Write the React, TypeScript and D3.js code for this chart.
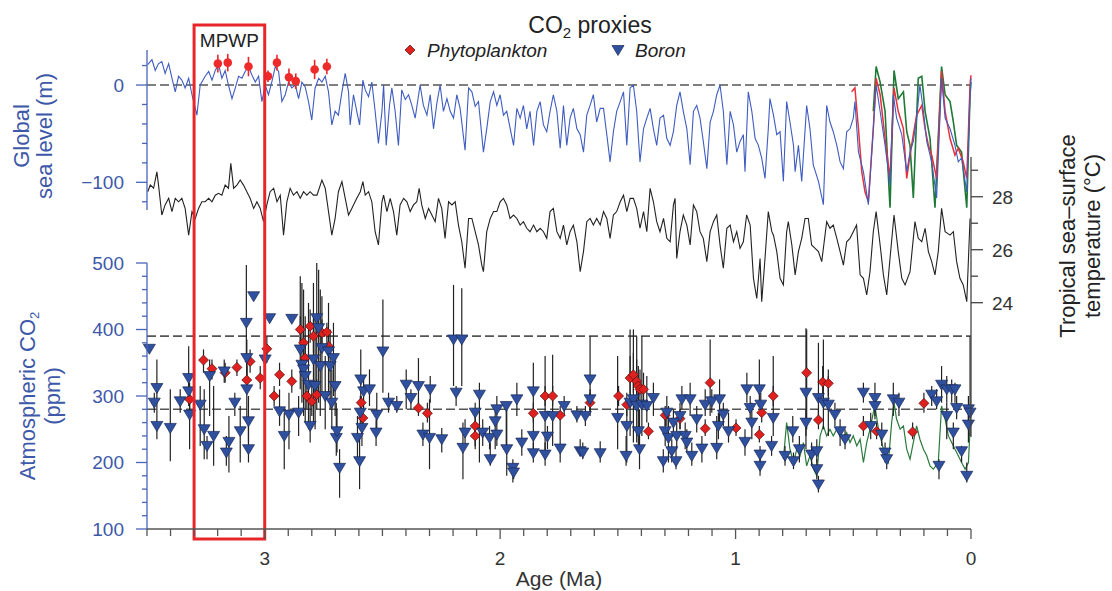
import React from 'react';
import * as d3 from 'd3';

// ---- Global sea level (m), LR04-based reconstruction: [age Ma, metres]
const seaLevel: [number, number][] = [
  [3.497,21],[3.479,26],[3.465,15],[3.451,22],[3.437,24],[3.423,12],[3.408,22],[3.394,7],[3.380,-7],[3.366,9],[3.352,5],[3.338,-3],[3.323,7],[3.309,-10],[3.288,-31],[3.274,0],[3.253,9],[3.238,14],[3.224,5],[3.210,15],[3.196,21],[3.182,7],[3.168,15],[3.154,0],[3.139,-14],[3.125,-3],[3.111,9],[3.097,7],[3.083,14],[3.069,19],[3.054,10],[3.040,3],[3.026,9],[3.012,-17],[2.998,0],[2.984,-10],[2.970,3],[2.955,19],[2.941,14],[2.927,-17],[2.913,-10],[2.899,3],[2.885,-3],[2.870,0],[2.856,-14],[2.842,3],[2.828,-2],[2.814,-17],[2.800,-36],[2.786,-3],[2.771,7],[2.757,3],[2.743,9],[2.729,-7],[2.715,-41],[2.701,-27],[2.687,-31],[2.672,-7],[2.658,12],[2.644,-7],[2.637,-41],
  [2.623,-10],[2.609,-27],[2.597,-41],[2.583,5],[2.573,-5],[2.559,-12],[2.545,3],[2.531,-27],[2.517,-60],[2.502,-27],[2.495,0],[2.484,-62],[2.470,-21],[2.460,-3],[2.446,-27],[2.432,-62],[2.418,-5],[2.403,-15],[2.389,-10],[2.375,-21],[2.361,-34],[2.340,0],[2.326,-21],[2.311,-31],[2.297,-10],[2.283,-45],[2.269,-19],[2.255,0],[2.241,-27],[2.226,-14],[2.212,-27],[2.198,-34],[2.184,-10],[2.170,-24],[2.149,-67],[2.134,-3],[2.120,-7],[2.106,-22],[2.092,-17],[2.071,-69],[2.057,-45],[2.042,-17],[2.028,-7],[2.014,-21],[2.000,-10],[1.986,-31],[1.972,-27],[1.943,-62],[1.929,-24],[1.915,-34],[1.901,-21],[1.887,-45],[1.873,-27],[1.858,-62],[1.844,-27],[1.830,-17],[1.816,-41],[1.802,-48],[1.788,-27],[1.774,-10],[1.759,-27],[1.745,-65],
  [1.731,-21],[1.717,-62],[1.703,-34],[1.689,-24],[1.674,-45],[1.660,-51],[1.646,-69],[1.632,-31],[1.618,-21],[1.604,-10],[1.590,-38],[1.575,-24],[1.561,-24],[1.547,-51],[1.533,-79],[1.519,-48],[1.505,-27],[1.490,-17],[1.476,-7],[1.462,-62],[1.448,-3],[1.434,0],[1.420,-27],[1.406,-79],[1.391,-45],[1.377,-34],[1.363,-24],[1.349,-45],[1.335,-62],[1.321,-34],[1.306,-31],[1.292,-55],[1.278,-62],[1.264,-48],[1.250,-21],[1.236,-7],[1.222,-27],[1.207,-45],[1.193,-82],[1.179,-27],[1.165,-21],[1.151,-34],[1.137,-58],[1.122,-86],[1.108,-38],[1.094,-27],[1.080,-10],[1.066,0],[1.052,-27],[1.037,-82],[1.023,-27],[1.009,-41],[0.995,-69],[0.981,-58],[0.967,-51],[0.960,-89],[0.946,-7],[0.931,-27],[0.917,-55],[0.903,-62],[0.889,-75],[0.875,-96],[0.861,-45],[0.854,-14],
  [0.839,-31],[0.825,-51],[0.811,-48],[0.797,-99],[0.783,-17],[0.769,-38],[0.754,-62],[0.747,-89],[0.733,-62],[0.719,-99],[0.698,-21],[0.684,-45],[0.670,-82],[0.648,-99],[0.627,-123],[0.613,-21],[0.599,-38],[0.585,-48],[0.570,-62],[0.556,-79],[0.542,-86],[0.528,-48],[0.514,-45],[0.500,-34],[0.493,-17],[0.478,-69],[0.457,-89],[0.436,-123],[0.415,-45],[0.403,0],[0.386,-27],[0.365,-62],[0.344,-103],[0.330,-10],[0.316,-34],[0.294,-51],[0.273,-89],[0.259,-69],[0.245,-58],[0.231,-34],[0.217,0],[0.202,-27],[0.188,-58],[0.167,-79],[0.146,-116],[0.125,7],[0.110,-34],[0.089,-45],[0.068,-62],[0.054,-79],[0.040,-75],[0.018,-110],[0.004,-10],[0.000,7],
];

// Late Pleistocene sea-level records (red and green)
const seaLevelRed: [number, number][] = [
  [0.507,-7],[0.493,-3],[0.478,-45],[0.464,-89],[0.450,-110],[0.436,-120],[0.415,-45],[0.403,7],[0.386,-10],[0.365,-55],[0.344,-96],[0.327,-3],[0.309,-27],[0.287,-45],[0.273,-96],[0.259,-72],[0.245,-51],[0.231,-31],[0.209,-21],[0.195,-45],[0.181,-62],[0.167,-72],[0.146,-96],[0.125,14],[0.110,-27],[0.089,-55],[0.068,-72],[0.054,-65],[0.033,-79],[0.018,-96],[0.004,0],[0.000,10],
];
const seaLevelGreen: [number, number][] = [
  [0.415,-27],[0.403,19],[0.386,3],[0.365,-27],[0.344,-126],[0.327,15],[0.309,-14],[0.287,-7],[0.273,-48],[0.259,-62],[0.245,-116],[0.224,7],[0.209,9],[0.195,-27],[0.174,-55],[0.153,-126],[0.125,19],[0.110,-10],[0.089,-17],[0.075,-38],[0.061,-62],[0.040,-69],[0.018,-126],[0.004,-10],[0.000,3],
];

// Pliocene sea-level highstand estimates: [age Ma, metres, ± error]
const plioceneHighstands: [number, number, number][] = [
  [3.199,22,9],[3.157,23,9],[3.069,19,10],[2.986,9,6],[2.948,23,8],[2.897,8,9],[2.868,4,8],[2.788,16,10],[2.736,19,8],
];

// ---- Tropical sea-surface temperature (°C): [age Ma, °C]
const sst: [number, number][] = [
  [3.497,28.19],[3.486,28.44],[3.472,28.32],[3.458,28.94],[3.451,28.44],[3.437,27.31],[3.423,27.69],[3.408,27.94],[3.394,27.44],[3.380,27.94],[3.366,27.81],[3.352,27.94],[3.338,27.56],[3.323,26.55],[3.309,27.44],[3.295,27.18],[3.281,27.56],[3.267,27.81],[3.253,27.81],[3.238,27.94],[3.224,27.81],[3.210,28.06],[3.196,28.13],[3.182,28.06],[3.168,28.44],[3.154,28.32],[3.144,29.26],[3.132,28.32],[3.118,28.44],[3.104,28.63],[3.090,28.44],[3.076,28.19],[3.062,27.94],[3.047,27.56],[3.033,27.81],[3.019,27.56],[3.005,27.06],[2.991,27.69],[2.977,28.19],[2.962,28.32],[2.948,27.81],[2.934,28.06],[2.920,26.55],[2.906,27.81],[2.892,28.32],[2.878,28.06],[2.863,28.19],[2.849,27.94],[2.835,28.19],[2.821,28.06],[2.807,28.19],[2.793,28.06],[2.778,28.06],[2.757,28.63],[2.743,28.32],[2.729,27.44],[2.715,26.55],[2.701,27.18],[2.687,28.19],[2.672,28.57],[2.658,27.94],[2.644,27.31],[2.630,27.56],
  [2.623,27.69],[2.609,27.94],[2.594,28.19],[2.583,28.57],[2.573,28.06],[2.559,28.19],[2.545,27.81],[2.531,26.68],[2.517,26.18],[2.502,27.81],[2.495,28.06],[2.481,27.44],[2.467,27.94],[2.453,27.44],[2.439,26.55],[2.425,27.69],[2.410,27.94],[2.396,27.81],[2.382,27.44],[2.368,27.69],[2.354,27.81],[2.344,28.32],[2.333,27.69],[2.318,27.18],[2.304,27.56],[2.290,27.31],[2.276,27.06],[2.262,27.94],[2.248,27.56],[2.234,26.43],[2.219,27.81],[2.205,27.69],[2.191,27.81],[2.177,26.93],[2.163,26.30],[2.149,25.30],[2.134,27.18],[2.120,27.18],[2.106,26.68],[2.092,26.18],[2.078,25.42],[2.071,25.17],[2.057,26.68],[2.042,27.18],[2.028,27.44],[2.014,27.44],[2.000,27.81],[1.986,27.94],[1.972,27.69],[1.958,27.18],[1.943,27.31],[1.929,27.18],[1.915,26.93],[1.901,27.06],[1.887,26.81],[1.873,26.68],[1.858,26.93],[1.844,26.68],[1.830,26.81],[1.816,26.68],[1.802,26.43],[1.788,27.44],[1.774,27.56],[1.759,26.68],[1.745,26.43],
  [1.731,26.93],[1.717,26.18],[1.703,26.68],[1.689,26.93],[1.674,26.30],[1.660,25.17],[1.646,25.93],[1.632,27.06],[1.618,27.18],[1.604,26.93],[1.590,27.18],[1.575,26.93],[1.561,27.44],[1.547,27.18],[1.533,26.43],[1.519,27.31],[1.505,27.44],[1.490,27.81],[1.476,28.06],[1.462,27.44],[1.448,27.94],[1.434,27.94],[1.420,27.56],[1.406,26.81],[1.391,27.44],[1.377,26.68],[1.363,28.32],[1.349,27.81],[1.335,27.06],[1.321,26.68],[1.306,27.18],[1.292,26.43],[1.278,26.30],[1.264,27.69],[1.257,27.94],[1.250,25.67],[1.236,26.68],[1.222,27.31],[1.207,26.93],[1.193,26.18],[1.179,27.69],[1.165,27.44],[1.151,26.68],[1.137,26.43],[1.122,25.55],[1.108,26.68],[1.094,27.06],[1.080,27.31],[1.066,26.18],[1.052,25.30],[1.037,26.81],[1.023,26.93],[1.009,26.30],[0.995,26.68],[0.981,26.05],[0.967,26.30],[0.953,27.31],[0.938,26.93],[0.924,24.92],[0.910,24.16],[0.896,25.67],[0.889,24.04],[0.875,25.67],[0.861,27.44],[0.846,26.68],[0.839,26.55],
  [0.825,25.93],[0.811,24.92],[0.797,24.67],[0.783,26.68],[0.776,27.06],[0.761,26.18],[0.747,25.05],[0.733,25.93],[0.719,26.43],[0.705,27.18],[0.691,27.18],[0.677,26.18],[0.662,26.05],[0.648,25.93],[0.634,25.55],[0.613,27.06],[0.599,26.81],[0.585,26.93],[0.570,26.43],[0.556,25.93],[0.542,25.42],[0.528,26.30],[0.514,26.43],[0.500,26.68],[0.486,26.93],[0.471,25.05],[0.457,24.92],[0.443,24.29],[0.429,25.17],[0.415,26.68],[0.403,27.44],[0.386,26.18],[0.372,25.05],[0.358,24.29],[0.344,25.67],[0.327,27.31],[0.309,25.93],[0.294,24.92],[0.280,24.67],[0.259,25.17],[0.238,27.06],[0.224,26.43],[0.209,26.30],[0.195,26.81],[0.181,25.93],[0.167,25.55],[0.153,25.05],[0.139,25.93],[0.125,27.56],[0.110,26.68],[0.089,26.55],[0.075,26.68],[0.061,25.55],[0.047,24.92],[0.033,24.67],[0.018,24.04],[0.004,27.18],
];

// ---- Atmospheric CO2 proxies: [age Ma, ppm, lower, upper]
const boron: [number, number, number, number][] = [
  [3.490,371,371,371],[3.458,312,285,355],[3.469,290,275,305],[3.458,255,235,285],[3.401,252,202,310],[3.359,292,275,310],[3.323,327,285,375],[3.323,307,290,325],[3.319,272,220,320],[3.274,287,225,315],[3.257,250,205,310],[3.245,225,205,240],[3.234,330,270,355],[3.217,240,195,315],[3.172,337,320,355],[3.163,215,195,240],[3.152,231,185,270],[3.127,290,270,305],[3.104,247,200,285],[3.078,410,355,497],[3.076,357,320,385],[3.076,310,260,355],[3.069,262,230,300],[3.069,220,200,270],[3.047,450,450,450],[2.998,355,285,415],[2.979,417,417,417],[2.937,277,255,310],[2.917,240,190,275],[2.897,272,220,305],[2.885,416,416,416],[2.856,275,240,300],[2.849,370,310,480],[2.842,347,290,470],[2.835,340,270,460],[2.828,330,260,420],[2.814,317,250,440],[2.807,255,230,300],[2.793,355,260,470],[2.786,315,250,420],[2.779,417,305,500],[2.771,402,290,490],[2.764,345,270,460],[2.757,372,300,450],[2.743,300,250,360],[2.729,367,300,440],[2.722,345,280,400],[2.715,290,250,340],[2.708,357,300,410],[2.701,315,270,360],[2.696,237,210,290],[2.693,247,215,280],[2.682,192,147,220],[2.606,237,200,270],[2.597,202,160,240],[2.594,275,250,300],[2.592,325,280,370],[2.587,252,225,280],[2.580,307,280,330],[2.555,310,285,340],[2.524,272,250,305],[2.527,245,225,265],[2.498,367,305,445],[2.474,290,275,305],[2.439,285,275,300],
  [2.399,317,280,340],[2.379,297,280,310],[2.347,315,285,357],[2.328,242,225,260],[2.300,237,190,295],[2.297,310,290,330],[2.248,235,215,252],[2.198,385,315,467],[2.187,305,285,315],[2.163,385,315,462],[2.158,222,175,260],[2.149,245,225,265],[2.106,275,220,290],[2.088,302,200,320],[2.074,245,225,265],[2.045,237,220,255],[2.042,205,195,230],[2.021,262,220,285],[2.014,280,265,300],[2.014,242,225,260],[1.974,285,225,290],[1.972,220,180,285],[1.946,192,170,205],[1.943,185,175,195],[1.929,295,270,320],[1.908,230,210,250],[1.859,307,270,350],[1.859,240,210,270],[1.859,214,200,230],[1.809,270,215,360],[1.809,212,195,230],[1.799,239,220,255],[1.777,270,225,362],[1.745,221,200,255],[1.728,285,270,300],[1.674,271,260,285],[1.660,217,210,235],[1.649,215,205,230],[1.638,270,255,285],[1.618,325,280,390],[1.618,295,270,310],[1.575,214,200,232],[1.501,267,220,360],[1.465,210,195,240],[1.462,255,200,280],[1.448,290,240,400],[1.434,295,230,400],[1.420,285,230,390],[1.413,247,220,330],[1.408,220,190,280],[1.398,287,240,390],[1.377,285,260,330],[1.349,297,270,320],[1.307,202,185,220],[1.299,247,225,270],[1.292,275,255,300],[1.285,237,200,285],[1.271,217,200,235],[1.264,260,240,280],[1.253,202,190,220],[1.250,240,220,260],[1.236,270,250,290],[1.228,295,280,315],[1.214,240,220,260],[1.207,230,215,250],[1.193,295,270,320],[1.186,210,195,230],[1.165,265,245,285],[1.143,221,200,240],[1.129,287,270,310],[1.101,292,275,310],[1.080,222,205,270],[1.073,255,235,275],[1.068,295,260,325],[1.052,272,255,290],[1.030,247,230,275],[0.960,231,210,250],[0.952,310,290,335],[0.938,282,265,300],[0.931,260,235,290],[0.899,310,285,355],[0.896,212,200,225],[0.896,195,180,205],[0.893,287,270,305],[0.840,267,240,360],[0.847,225,210,240],[0.757,247,230,270],
  [0.790,210,195,225],[0.754,202,190,215],[0.729,220,200,240],[0.701,305,220,402],[0.701,260,240,280],[0.677,212,195,230],[0.655,217,200,235],[0.655,190,175,205],[0.648,167,155,180],[0.648,297,270,380],[0.627,290,250,385],[0.606,287,240,330],[0.578,272,255,290],[0.556,247,225,265],[0.535,235,220,250],[0.457,305,290,320],[0.426,255,235,275],[0.408,297,270,320],[0.408,285,265,300],[0.379,242,225,260],[0.365,215,200,230],[0.358,205,190,220],[0.330,295,270,320],[0.306,290,270,305],[0.167,302,285,315],[0.146,292,280,310],[0.136,195,175,205],[0.125,317,290,345],[0.103,310,290,330],[0.082,310,290,325],[0.068,310,290,320],[0.103,270,235,290],[0.075,245,220,260],[0.061,282,265,300],[0.040,217,200,225],[0.018,180,170,200],[0.011,280,260,300],[0.004,275,240,390],[0.011,257,230,285],
];

const phytoplankton: [number, number, number, number][] = [
  [3.319,295,280,310],[3.260,354,335,370],[3.224,341,325,355],[3.168,335,320,350],[3.118,343,330,355],[3.076,324,305,345],[3.062,352,335,370],[3.019,327,310,345],[2.991,371,350,390],[2.960,300,285,315],[2.937,332,315,350],[2.885,322,305,340],[2.849,400,380,420],[2.835,380,355,405],[2.828,357,335,380],[2.821,300,280,320],[2.807,405,380,430],[2.800,292,270,315],[2.793,390,365,415],[2.779,302,280,325],[2.757,395,375,415],[2.736,396,380,410],[2.729,375,355,395],[2.590,290,280,300],[2.583,267,255,280],
  [2.347,282,270,295],[2.309,274,260,290],[2.106,255,240,270],[2.106,240,225,255],[1.859,274,260,290],[1.809,300,285,315],[1.777,300,285,315],[1.745,271,255,285],[1.618,290,275,305],[1.497,300,285,315],[1.448,327,300,360],[1.434,332,305,365],[1.420,322,295,355],[1.413,315,290,345],[1.406,310,285,340],[1.391,310,290,335],[1.462,287,270,305],[1.370,247,235,260],[1.299,271,255,285],[1.236,266,250,280],[1.129,251,240,265],[1.108,320,270,385],[0.998,252,240,265],[0.899,242,230,255],[0.889,275,260,290],[0.840,300,285,315],
  [0.698,335,250,400],[0.648,264,250,280],[0.630,321,300,345],[0.606,319,300,340],[0.457,255,240,270],[0.401,247,235,260],[0.248,246,235,260],[0.200,289,275,305],
];

// Ice-core CO2: [age Ma, ppm]
const iceCoreCO2: [number, number][] = [
  [0.797,205],[0.783,260],[0.769,220],[0.754,200],[0.740,220],[0.726,210],[0.712,230],[0.698,195],[0.684,210],[0.669,190],[0.655,180],[0.641,240],[0.627,255],[0.613,240],[0.599,250],[0.585,240],[0.570,250],[0.556,240],[0.542,235],[0.528,245],[0.514,230],[0.500,240],[0.485,225],[0.471,235],[0.457,200],[0.443,230],[0.429,250],[0.415,275],[0.408,285],[0.393,250],[0.379,230],[0.365,210],[0.351,200],[0.337,260],[0.327,290],[0.316,265],[0.301,250],[0.287,255],[0.273,220],[0.259,205],[0.245,230],[0.231,255],[0.217,235],[0.202,220],[0.188,210],[0.174,195],[0.160,190],[0.139,200],[0.125,285],[0.110,265],[0.096,240],[0.082,230],[0.068,220],[0.054,210],[0.040,200],[0.025,190],[0.011,200],[0.004,250],
];

// Reference CO2 levels (ppm) and warm-period bounds (Ma)
const co2RefLevels = [390, 280];
const mpwp = [3.3, 3.0];

// Axis ticks
const ageTicks = d3.range(0, 3.5001, 0.1).map(v => Math.round(v * 10) / 10);
const ageLabels = [3, 2, 1, 0];
const seaTicks = [20, 0, -20, -40, -60, -80, -100, -120];
const seaLabels = [0, -100];
const co2Ticks = d3.range(100, 501, 20);
const co2Labels = [100, 200, 300, 400, 500];
const sstTicks = [24, 25, 26, 27, 28, 29];
const sstLabels = [24, 26, 28];

// Scales
const x = d3.scaleLinear().domain([3.5, 0]).range([147, 971]);
const ySea = d3.scaleLinear().domain([-130, 36]).range([211.5, 50]);
const yT = d3.scaleLinear().domain([18.93, 29.5]).range([437, 157]);
const yCO2 = d3.scaleLinear().domain([100, 500]).range([529, 263]);

const FONT = '"Liberation Sans", Arial, Helvetica, sans-serif';
const BLUE_TXT = '#3d58a8';
const AXIS_BLUE = '#4a64b8';
const GREY = '#555';

const seaLine = d3.line<[number, number]>().x(d => x(d[0])).y(d => ySea(d[1]));
const sstLine = d3.line<[number, number]>().x(d => x(d[0])).y(d => yT(d[1]));
const co2Line = d3.line<[number, number]>().x(d => x(d[0])).y(d => yCO2(d[1]));

const triPath = 'M-6,-4.5L6,-4.5L0,5.5Z';
const diaPath = 'M0,-5L5,0L0,5L-5,0Z';

export default function App() {
  const x0 = x.range()[0];
  const x1 = x.range()[1];
  return (
    <svg width={1112} height={591} style={{ position: 'absolute', left: 0, top: 0, background: '#fff' }}
      fontFamily={FONT}>
      {/* Title and legend */}
      <text x={590} y={33} textAnchor="middle" fontSize={23} fill="#222">
        CO<tspan fontSize={15} dy={5}>2</tspan><tspan dy={-5}> proxies</tspan>
      </text>
      <path d={diaPath} transform="translate(410,50)" fill="#e0201e" stroke="#4a1010" strokeWidth={0.7} />
      <text x={427} y={57} fontSize={19} fontStyle="italic" fill="#222">Phytoplankton</text>
      <path d={triPath} transform="translate(618,50)" fill="#2f4f9f" stroke="#1a2a55" strokeWidth={0.7} />
      <text x={635} y={57} fontSize={19} fontStyle="italic" fill="#222">Boron</text>

      {/* Reference dashed lines */}
      <line x1={x0} x2={x1} y1={ySea(0)} y2={ySea(0)} stroke={GREY} strokeWidth={1.6} strokeDasharray="9,4" />
      {co2RefLevels.map(v => (
        <line key={v} x1={x0} x2={x1} y1={yCO2(v)} y2={yCO2(v)} stroke={GREY} strokeWidth={1.6} strokeDasharray="9,4" />
      ))}

      {/* Sea-level curves */}
      <path d={seaLine(seaLevelGreen) || ''} fill="none" stroke="#1e7a36" strokeWidth={1.6} />
      <path d={seaLine(seaLevelRed) || ''} fill="none" stroke="#e8303a" strokeWidth={1.5} />
      <path d={seaLine(seaLevel) || ''} fill="none" stroke="#3f5cc0" strokeWidth={1.1} />

      {/* Pliocene highstands */}
      {plioceneHighstands.map((d, i) => (
        <g key={i}>
          <line x1={x(d[0])} x2={x(d[0])} y1={ySea(d[1] - d[2])} y2={ySea(d[1] + d[2])} stroke="#e8262a" strokeWidth={1.6} />
          <circle cx={x(d[0])} cy={ySea(d[1])} r={4.3} fill="#ee2a2a" />
        </g>
      ))}

      {/* Tropical SST */}
      <path d={sstLine(sst) || ''} fill="none" stroke="#222" strokeWidth={1.1} />

      {/* Ice-core CO2 */}
      <path d={co2Line(iceCoreCO2) || ''} fill="none" stroke="#2a7a3c" strokeWidth={1.2} />

      {/* CO2 proxy error bars */}
      {[...boron, ...phytoplankton].map((d, i) => (
        d[3] > d[2] ? <line key={'e' + i} x1={x(d[0])} x2={x(d[0])} y1={yCO2(d[2])} y2={yCO2(d[3])} stroke="#222" strokeWidth={1.2} /> : null
      ))}
      {phytoplankton.map((d, i) => (
        <path key={'p' + i} d={diaPath} transform={`translate(${x(d[0])},${yCO2(d[1])})`} fill="#e0201e" stroke="#4a1010" strokeWidth={0.7} />
      ))}
      {boron.map((d, i) => (
        <path key={'b' + i} d={triPath} transform={`translate(${x(d[0])},${yCO2(d[1])})`} fill="#2f4f9f" stroke="#1a2a55" strokeWidth={0.7} />
      ))}

      {/* MPWP box */}
      <rect x={x(mpwp[0])} y={25} width={x(mpwp[1]) - x(mpwp[0])} height={514} fill="none" stroke="#e8262a" strokeWidth={3} />
      <text x={(x(mpwp[0]) + x(mpwp[1])) / 2} y={47} textAnchor="middle" fontSize={19} fill="#222">MPWP</text>

      {/* Left sea-level axis */}
      <line x1={x0} x2={x0} y1={ySea.range()[1]} y2={210} stroke={AXIS_BLUE} strokeWidth={1.3} />
      {seaTicks.map(v => (
        <line key={v} x1={x0 - (seaLabels.includes(v) ? 11 : 5)} x2={x0} y1={ySea(v)} y2={ySea(v)} stroke={AXIS_BLUE} strokeWidth={1.3} />
      ))}
      {seaLabels.map(v => (
        <text key={v} x={124} y={ySea(v)} dy="0.36em" textAnchor="end" fontSize={19} fill={BLUE_TXT}>
          {v < 0 ? '\u2212' + Math.abs(v) : v}
        </text>
      ))}
      <text transform="translate(29,136) rotate(-90)" textAnchor="middle" fontSize={22} fill={BLUE_TXT}>Global</text>
      <text transform="translate(52,136) rotate(-90)" textAnchor="middle" fontSize={22} fill={BLUE_TXT}>sea level (m)</text>

      {/* Left CO2 axis */}
      <line x1={x0} x2={x0} y1={yCO2(500)} y2={yCO2(100)} stroke={AXIS_BLUE} strokeWidth={1.3} />
      {co2Ticks.map(v => (
        <line key={v} x1={x0 - (v % 100 === 0 ? 11 : 5)} x2={x0} y1={yCO2(v)} y2={yCO2(v)} stroke={AXIS_BLUE} strokeWidth={1.3} />
      ))}
      {co2Labels.map(v => (
        <text key={v} x={124} y={yCO2(v)} dy="0.36em" textAnchor="end" fontSize={19} fill={BLUE_TXT}>{v}</text>
      ))}
      <text transform="translate(35,396) rotate(-90)" textAnchor="middle" fontSize={22} fill={BLUE_TXT}>
        Atmospheric CO<tspan fontSize={13} dy={4}>2</tspan>
      </text>
      <text transform="translate(60,396) rotate(-90)" textAnchor="middle" fontSize={22} fill={BLUE_TXT}>(ppm)</text>

      {/* Right SST axis */}
      <line x1={x1} x2={x1} y1={yT.range()[1]} y2={yT.range()[0]} stroke="#444" strokeWidth={1.3} />
      {sstTicks.map(v => (
        <line key={v} x1={x1} x2={x1 + (sstLabels.includes(v) ? 12 : 7)} y1={yT(v)} y2={yT(v)} stroke="#444" strokeWidth={1.3} />
      ))}
      {sstLabels.map(v => (
        <text key={v} x={992} y={yT(v)} dy="0.36em" fontSize={19} fill="#333">{v}</text>
      ))}
      <text transform="translate(1075,236) rotate(-90)" textAnchor="middle" fontSize={22} fill="#222">Tropical sea–surface</text>
      <text transform="translate(1100,236) rotate(-90)" textAnchor="middle" fontSize={22} fill="#222">temperature (°C)</text>

      {/* Bottom age axis */}
      <line x1={x0} x2={x1} y1={yCO2(100)} y2={yCO2(100)} stroke={GREY} strokeWidth={1.3} />
      {ageTicks.map(v => (
        <line key={v} x1={x(v)} x2={x(v)} y1={yCO2(100)} y2={yCO2(100) + (ageLabels.includes(v) ? 10 : 7)} stroke={GREY} strokeWidth={1.3} />
      ))}
      {ageLabels.map(v => (
        <text key={v} x={x(v)} y={565} textAnchor="middle" fontSize={19} fill="#333">{v}</text>
      ))}
      <text x={559} y={586} textAnchor="middle" fontSize={21} fill="#333">Age (Ma)</text>
    </svg>
  );
}
